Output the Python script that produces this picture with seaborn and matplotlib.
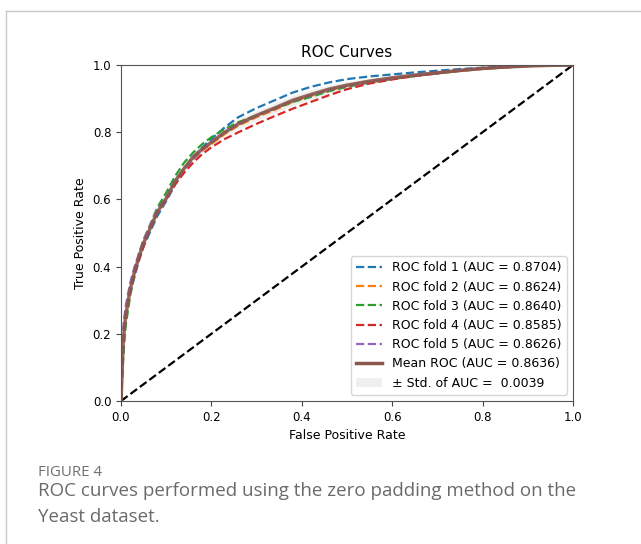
import numpy as np
import pandas as pd
import matplotlib
matplotlib.use("Agg")
import matplotlib.pyplot as plt
import seaborn as sns
from matplotlib.lines import Line2D
from matplotlib.patches import Patch

fpr = [0, .005, .01, .02, .03, .04, .05, .06, .08, .10, .12, .14, .16, .18, .20, .23, .26,
       .30, .34, .38, .42, .46, .50, .55, .60, .65, .70, .75, .80, .85, .90, .95, 1.0]
fold1 = [0, .15, .24, .32, .37, .42, .46, .49, .55, .595, .645, .69, .725, .755, .78, .815, .845,
         .872, .895, .918, .935, .948, .958, .966, .972, .978, .983, .988, .992, .995, .998, 1.0, 1.0]
fold2 = [0, .17, .26, .34, .39, .43, .47, .50, .56, .60, .65, .69, .72, .745, .765, .795, .82,
         .845, .866, .89, .908, .924, .938, .95, .96, .968, .976, .983, .989, .993, .997, .999, 1.0]
fold3 = [0, .13, .22, .31, .38, .44, .48, .51, .575, .62, .67, .71, .74, .765, .785, .81, .83,
         .85, .87, .89, .905, .922, .935, .948, .958, .967, .975, .982, .988, .993, .997, .999, 1.0]
fold4 = [0, .20, .27, .33, .38, .42, .46, .50, .56, .60, .645, .68, .71, .735, .755, .78, .80,
         .825, .848, .87, .89, .91, .928, .945, .957, .967, .975, .983, .989, .993, .997, .999, 1.0]
fold5 = [0, .22, .28, .35, .40, .44, .48, .51, .57, .605, .655, .69, .72, .748, .77, .80, .823,
         .848, .87, .893, .91, .926, .938, .95, .96, .969, .977, .984, .99, .994, .997, .999, 1.0]
mean_tpr = [0, .18, .25, .33, .385, .43, .47, .50, .562, .603, .655, .693, .727, .75, .77, .80, .825,
            .85, .872, .895, .912, .928, .94, .952, .962, .97, .977, .984, .99, .994, .997, .999, 1.0]
fold_aucs = [0.8704, 0.8624, 0.8640, 0.8585, 0.8626]
mean_auc = 0.8636
std_auc = 0.0039

folds = [fold1, fold2, fold3, fold4, fold5]
colors = sns.color_palette("tab10")

fig = plt.figure(figsize=(6.41, 5.44), dpi=100)
ax = fig.add_axes([121/641, 1-401/544, (573-121)/641, (401-65)/544])

for i, (f, auc) in enumerate(zip(folds, fold_aucs)):
    df = pd.DataFrame({"fpr": fpr, "tpr": f})
    sns.lineplot(data=df, x="fpr", y="tpr", ax=ax, color=colors[i], linestyle="--",
                 lw=1.6, estimator=None, sort=False)

sns.lineplot(x=[0, 1], y=[0, 1], ax=ax, color="black", linestyle="--", lw=1.6,
             estimator=None)

std_tpr = np.std(np.array(folds), axis=0)
m = np.array(mean_tpr)
ax.fill_between(fpr, np.clip(m - std_tpr, 0, 1), np.clip(m + std_tpr, 0, 1),
                color="grey", alpha=0.12, lw=0)
sns.lineplot(x=fpr, y=mean_tpr, ax=ax, color=colors[5], lw=2.5, alpha=0.9,
             estimator=None, sort=False)

ax.set_xlim(0, 1)
ax.set_ylim(0, 1)
ax.set_xticks([0, .2, .4, .6, .8, 1.0])
ax.set_yticks([0, .2, .4, .6, .8, 1.0])
ax.tick_params(labelsize=8.5, length=3.5, color="#444444")
for s in ax.spines.values():
    s.set_color("#555555")
ax.set_xlabel("False Positive Rate", fontsize=9)
ax.set_ylabel("True Positive Rate", fontsize=9)
ax.set_title("ROC Curves", fontsize=11)

handles = [Line2D([], [], color=colors[i], ls="--", lw=1.6) for i in range(5)]
labels = [f"ROC fold {i+1} (AUC = {a:.4f})" for i, a in enumerate(fold_aucs)]
handles.append(Line2D([], [], color=colors[5], lw=2.5))
labels.append(f"Mean ROC (AUC = {mean_auc:.4f})")
handles.append(Patch(facecolor="grey", alpha=0.12))
labels.append(f"\u00b1 Std. of AUC =  {std_auc:.4f}")
ax.legend(handles, labels, loc="lower right", fontsize=9, handlelength=2.1)

# figure frame
fig.add_artist(Line2D([6/641, 1], [1-11/544, 1-11/544], color="#c8c8c8", lw=1))
fig.add_artist(Line2D([6/641, 6/641], [0, 1-11/544], color="#c8c8c8", lw=1))

fig.text(38/641, 1-472/544, "FIGURE 4", fontsize=10.8, color="#707070",
         family="Open Sans", va="center", ha="left")
fig.text(38/641, 1-491/544, "ROC curves performed using the zero padding method on the",
         fontsize=13.5, color="#6a6a6a", family="Open Sans", va="center", ha="left")
fig.text(38/641, 1-517/544, "Yeast dataset.",
         fontsize=13.5, color="#6a6a6a", family="Open Sans", va="center", ha="left")

fig.savefig("out.png", dpi=100)
